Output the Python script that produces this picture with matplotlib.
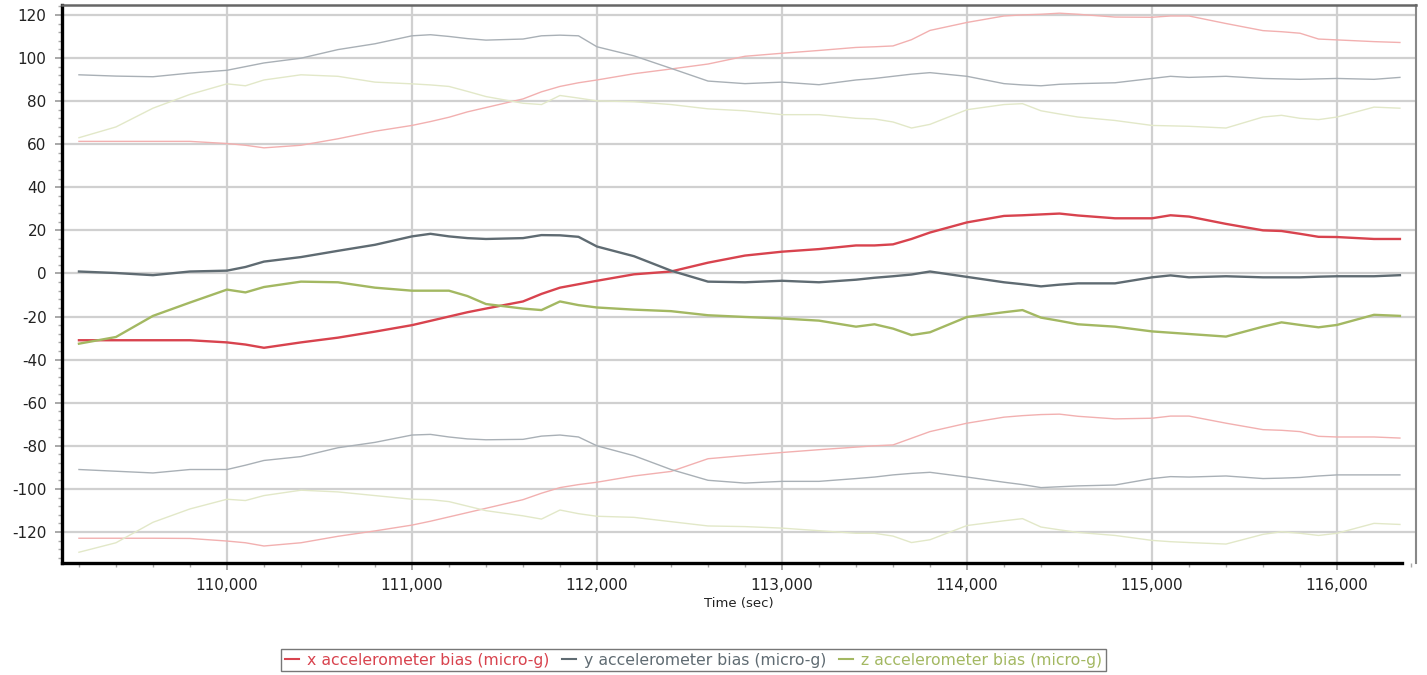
import matplotlib
matplotlib.use('Agg')
import matplotlib.pyplot as plt
from matplotlib.ticker import MultipleLocator, FuncFormatter

time_sec = [109200, 109400, 109600, 109800, 110000, 110100, 110200, 110400, 110600, 110800,
            111000, 111100, 111200, 111300, 111400, 111600, 111700, 111800, 111900, 112000,
            112200, 112400, 112600, 112800, 113000, 113200, 113400, 113500, 113600, 113700,
            113800, 114000, 114200, 114300, 114400, 114500, 114600, 114800, 115000, 115100,
            115200, 115400, 115600, 115700, 115800, 115900, 116000, 116200, 116340]

x_bias = [-31, -31, -31, -31, -32, -33, -34.5, -32, -29.8, -27,
          -24, -22, -20, -18, -16.3, -13, -9.5, -6.6, -5, -3.4,
          -0.4, 0.9, 5, 8.3, 10.1, 11.3, 13, 13, 13.5, 16,
          19, 23.7, 26.7, 27, 27.4, 27.8, 26.9, 25.6, 25.6, 27,
          26.4, 23, 20, 19.7, 18.4, 17, 16.9, 16, 16]
x_upper = [61.3, 61.3, 61.3, 61.3, 60.3, 59.5, 58.3, 59.5, 62.5, 66,
           68.7, 70.5, 72.5, 75, 77, 81, 84.3, 86.8, 88.5, 89.8,
           92.7, 94.9, 97.2, 100.8, 102.2, 103.5, 104.9, 105.2, 105.6, 108.5,
           112.8, 116.5, 119.5, 120, 120.3, 120.8, 120.3, 119, 118.9, 119.5,
           119.5, 116, 112.7, 112.2, 111.5, 108.8, 108.4, 107.6, 107.2]
x_lower = [-122.9, -122.9, -122.9, -123, -124.2, -125, -126.5, -125, -122, -119.5,
           -116.8, -115, -113, -111, -109, -105, -102, -99.4, -98, -96.9,
           -94, -91.9, -86, -84.5, -83.1, -81.8, -80.6, -80, -79.6, -76.5,
           -73.4, -69.5, -66.7, -66, -65.5, -65.3, -66.3, -67.5, -67.2, -66.2,
           -66.2, -69.5, -72.5, -72.8, -73.4, -75.6, -75.9, -75.9, -76.4]

y_bias = [0.9, 0.2, -0.8, 0.9, 1.3, 3, 5.5, 7.6, 10.5, 13.3,
          17.2, 18.4, 17.2, 16.4, 16, 16.4, 17.8, 17.7, 17, 12.5,
          8, 1.3, -3.8, -4.1, -3.4, -4.1, -2.9, -2, -1.3, -0.5,
          0.9, -1.6, -4.1, -5, -6, -5.2, -4.6, -4.6, -1.8, -0.9,
          -1.8, -1.3, -1.8, -1.8, -1.8, -1.5, -1.3, -1.3, -0.8]
y_upper = [92.2, 91.6, 91.3, 93, 94.3, 96, 97.7, 99.9, 103.9, 106.6,
           110.3, 110.8, 110, 109, 108.3, 108.8, 110.3, 110.6, 110.3, 105.2,
           101, 95.2, 89.3, 88.1, 88.8, 87.6, 89.8, 90.5, 91.5, 92.5,
           93.2, 91.5, 88.1, 87.5, 87.1, 87.8, 88.1, 88.5, 90.5, 91.5,
           91, 91.5, 90.5, 90.3, 90.1, 90.3, 90.5, 90.1, 91]
y_lower = [-91, -91.8, -92.6, -91, -91, -89, -86.8, -85, -80.9, -78.4,
           -75, -74.7, -75.9, -76.8, -77.2, -77, -75.5, -75, -75.9, -80,
           -84.6, -91, -96, -97.3, -96.5, -96.5, -95.2, -94.5, -93.5, -92.8,
           -92.3, -94.5, -96.9, -98, -99.4, -99, -98.6, -98.2, -95.2, -94.3,
           -94.5, -94, -95.2, -95, -94.7, -94, -93.5, -93.5, -93.5]

z_bias = [-32.6, -29.5, -19.7, -13.5, -7.5, -8.8, -6.3, -3.8, -4.1, -6.6,
          -8, -8, -8, -10.5, -14.2, -16.3, -17, -13, -14.7, -15.8,
          -16.8, -17.5, -19.4, -20.2, -20.9, -21.9, -24.7, -23.6, -25.6, -28.6,
          -27.3, -20.2, -18, -17, -20.5, -22, -23.6, -24.7, -26.9, -27.5,
          -28.1, -29.3, -24.7, -22.7, -23.9, -25, -23.9, -19.2, -19.7]
z_upper = [63, 68, 76.7, 83.1, 88, 87.1, 89.8, 92.2, 91.5, 88.8,
           88, 87.5, 86.8, 84.5, 82.1, 79, 78.4, 82.6, 81.4, 80.1,
           79.7, 78.4, 76.4, 75.5, 73.7, 73.7, 72, 71.7, 70.3, 67.5,
           69.2, 76, 78.4, 78.8, 75.5, 74, 72.6, 71, 68.7, 68.5,
           68.3, 67.5, 72.6, 73.4, 72, 71.4, 72.6, 77.2, 76.7]
z_lower = [-129.4, -125, -115.5, -109.3, -104.8, -105.4, -103.1, -100.6, -101.4, -103.1,
           -104.8, -105, -105.9, -108, -110.1, -112.5, -114, -109.8, -111.5, -112.7,
           -113.2, -115.2, -117.2, -117.5, -118.2, -119.4, -120.6, -120.6, -121.9, -124.9,
           -123.6, -117, -114.8, -113.8, -117.7, -119, -120.2, -121.6, -123.9, -124.5,
           -124.9, -125.6, -121.1, -119.9, -120.6, -121.6, -120.6, -116, -116.5]

labels = ["x accelerometer bias (micro-g)",
          "y accelerometer bias (micro-g)",
          "z accelerometer bias (micro-g)"]

main_colors = ['#d8434e', '#5f6b72', '#a3b862']
faint_colors = ['#f2b0b0', '#a9b0b6', '#e2e8c8']

fig = plt.figure(figsize=(14.27, 6.75), dpi=100)
fig.patch.set_facecolor('white')
ax = fig.add_axes([0.0434, 0.1659, 0.9489, 0.8267])

series = [(x_bias, x_upper, x_lower), (y_bias, y_upper, y_lower), (z_bias, z_upper, z_lower)]
handles = []
for (mid, up, lo), fc in zip(series, faint_colors):
    ax.plot(time_sec, up, color=fc, lw=1.0, zorder=2)
    ax.plot(time_sec, lo, color=fc, lw=1.0, zorder=2)
for (mid, up, lo), mc, lab in zip(series, main_colors, labels):
    h, = ax.plot(time_sec, mid, color=mc, lw=1.7, zorder=3, label=lab)
    handles.append(h)

ax.set_xlim(109108, 116427)
ax.set_ylim(-134.4, 124.6)

ax.xaxis.set_major_locator(MultipleLocator(1000))
ax.xaxis.set_minor_locator(MultipleLocator(200))
ax.yaxis.set_major_locator(MultipleLocator(20))
ax.yaxis.set_minor_locator(MultipleLocator(4))
ax.xaxis.set_major_formatter(FuncFormatter(lambda v, p: f"{int(round(v)):,}"))
ax.yaxis.set_major_formatter(FuncFormatter(lambda v, p: f"{int(round(v))}"))

ax.grid(True, which='major', color='#d0d0d0', lw=1.6, zorder=1)
ax.set_axisbelow(True)

ax.tick_params(axis='both', which='major', labelsize=11, colors='#999999', labelcolor='#222222',
               length=5, width=1.2, direction='out')
ax.tick_params(axis='both', which='minor', colors='#aaaaaa', length=3, width=1.0, direction='out')
ax.tick_params(axis='x', which='major', pad=6)
ax.tick_params(axis='y', which='major', pad=6)

for s in ['left', 'bottom']:
    ax.spines[s].set_color('black')
    ax.spines[s].set_linewidth(2.4)
ax.spines['top'].set_color('#666666')
ax.spines['top'].set_linewidth(1.8)
ax.spines['right'].set_color('#888888')
ax.spines['right'].set_linewidth(1.5)
ax.spines['bottom'].set_bounds(109108, 116350)

ax.set_xlabel("Time (sec)", fontsize=9.5, color='#222222', labelpad=3)

leg = fig.legend(handles, labels, loc='center', bbox_to_anchor=(0.486, 0.0222), ncol=3,
                 frameon=True, fancybox=False, edgecolor='#555555', fontsize=11.3,
                 handlelength=0.9, handletextpad=0.5, columnspacing=0.8, borderpad=0.25,
                 labelcolor='linecolor')
leg.get_frame().set_linewidth(1.0)
for line in leg.get_lines():
    line.set_linewidth(1.5)

fig.savefig('out.png', dpi=100, facecolor='white')
